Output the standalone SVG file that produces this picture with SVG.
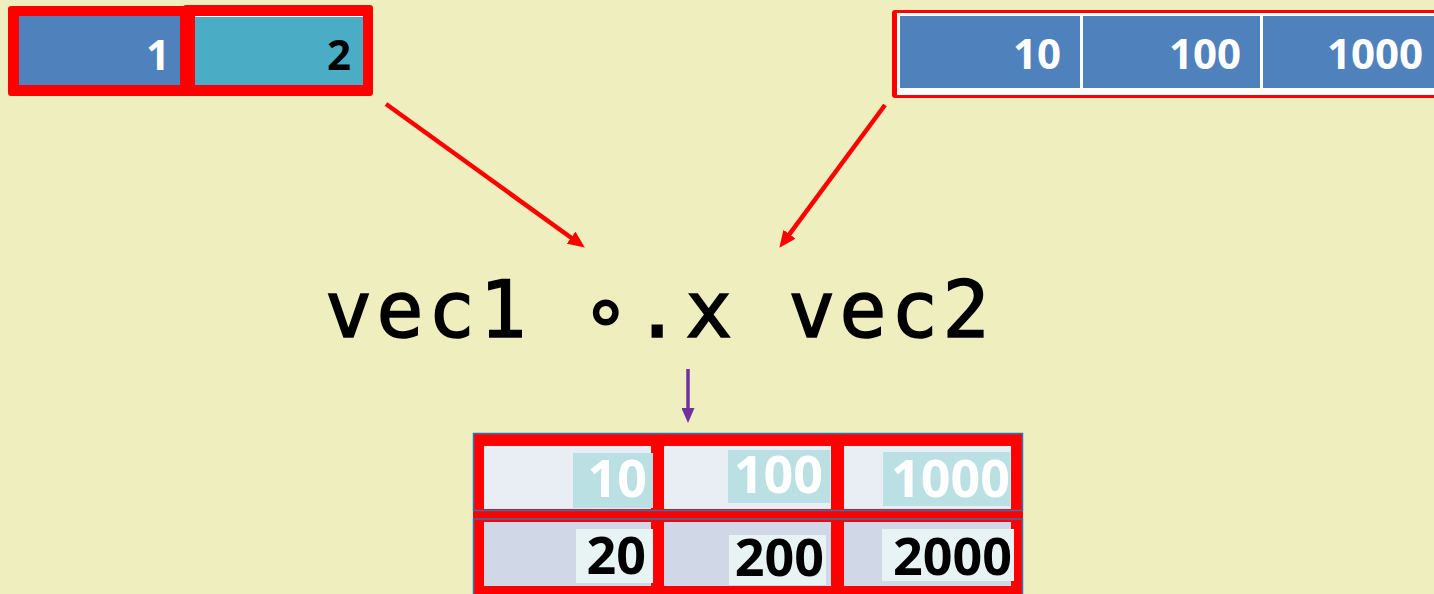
<svg xmlns="http://www.w3.org/2000/svg" width="1434" height="594" viewBox="0 0 1434 594">
  <style>
    .num { font-family: "Open Sans", "Liberation Sans", sans-serif; font-weight: 700; text-anchor: end; }
    .top { font-size: 42px; }
    .res { font-size: 52px; }
    .w { fill: #FFFFFF; }
    .k { fill: #000000; }
    .code { font-family: "DejaVu Sans Mono", "Liberation Mono", monospace; font-size: 78px; fill: #000000; stroke: #000000; stroke-width: 1.6px; letter-spacing: 4.5px; }
    .red-arrow { stroke: #FF0000; stroke-width: 4.5; fill: none; }
    .purple-arrow { stroke: #7030A0; stroke-width: 3.5; fill: none; }
  </style>
  <defs>
    <marker id="head-red" markerUnits="userSpaceOnUse" markerWidth="17" markerHeight="15" refX="4" refY="7.5" orient="auto">
      <path d="M0,0 L17,7.5 L0,15 z" fill="#FF0000"/>
    </marker>
    <marker id="head-purple" markerUnits="userSpaceOnUse" markerWidth="15" markerHeight="13" refX="3" refY="6.5" orient="auto">
      <path d="M0,0 L15,6.5 L0,13 z" fill="#7030A0"/>
    </marker>
  </defs>

  <!-- background -->
  <rect x="0" y="0" width="1434" height="594" fill="#EFEEBF"/>

  <!-- vec1: two-element vector -->
  <g id="vec1">
    <rect x="8" y="6" width="182" height="90" rx="3" fill="#FF0000"/>
    <rect x="183" y="5" width="190" height="91" rx="3" fill="#FF0000"/>
    <rect x="19" y="16" width="161" height="69" fill="#4F81BD"/>
    <rect x="195" y="16" width="168" height="69" fill="#4BACC6"/>
    <line x1="195" y1="16.5" x2="363" y2="16.5" stroke="#FFFFFF" stroke-width="1"/>
    <text class="num top w" x="170" y="70">1</text>
    <text class="num top k" x="351" y="70">2</text>
  </g>

  <!-- vec2: three-element vector -->
  <g id="vec2">
    <rect x="892" y="10" width="560" height="88" rx="3" fill="#FF0000"/>
    <rect x="897" y="13" width="560" height="82" fill="#FFFFFF"/>
    <rect x="900" y="16" width="180" height="72" fill="#4F81BD"/>
    <rect x="1083" y="16" width="177" height="72" fill="#4F81BD"/>
    <rect x="1263" y="16" width="190" height="72" fill="#4F81BD"/>
    <text class="num top w" x="1061" y="69">10</text>
    <text class="num top w" x="1241" y="69">100</text>
    <text class="num top w" x="1423" y="69">1000</text>
  </g>

  <!-- outer product expression -->
  <g id="expr">
    <text class="code" x="325" y="337">vec1 ∘.x vec2</text>
  </g>

  <!-- result matrix -->
  <g id="result">
    <rect x="473" y="433" width="550" height="170" fill="#FF0000"/>
    <rect x="473.5" y="433.5" width="549" height="77" fill="none" stroke="#2E75B6" stroke-width="1.5"/>
    <rect x="473.5" y="519" width="549" height="90" fill="none" stroke="#2E75B6" stroke-width="1.5"/>

    <!-- row 1 -->
    <rect x="484" y="446" width="167" height="63" fill="#E9EDF4"/>
    <rect x="664" y="446" width="167" height="63" fill="#E9EDF4"/>
    <rect x="844" y="446" width="167" height="63" fill="#E9EDF4"/>
    <rect x="573" y="453" width="80" height="55" fill="#BBE0E3"/>
    <rect x="728" y="450" width="102" height="53" fill="#BBE0E3"/>
    <rect x="883" y="452" width="127" height="54" fill="#BBE0E3"/>
    <text class="num res w" x="647" y="497">10</text>
    <text class="num res w" x="823" y="493">100</text>
    <text class="num res w" x="1010" y="497">1000</text>

    <!-- row 2 -->
    <rect x="484" y="522" width="167" height="64" fill="#D0D8E8"/>
    <rect x="664" y="522" width="167" height="64" fill="#D0D8E8"/>
    <rect x="844" y="522" width="167" height="64" fill="#D0D8E8"/>
    <rect x="576" y="529" width="77" height="54" fill="#E8F3F3"/>
    <rect x="729" y="535" width="97" height="50" fill="#E8F3F3"/>
    <rect x="882" y="529" width="132" height="52" fill="#E8F3F3"/>
    <text class="num res k" x="646" y="574">20</text>
    <text class="num res k" x="824" y="576">200</text>
    <text class="num res k" x="1012" y="575">2000</text>
  </g>

  <!-- connectors -->
  <g id="connectors">
    <line class="red-arrow" x1="386" y1="104" x2="574.3" y2="240" marker-end="url(#head-red)"/>
    <line class="red-arrow" x1="885" y1="105" x2="787.1" y2="237.4" marker-end="url(#head-red)"/>
    <line class="purple-arrow" x1="688" y1="369" x2="688" y2="411" marker-end="url(#head-purple)"/>
  </g>
</svg>
